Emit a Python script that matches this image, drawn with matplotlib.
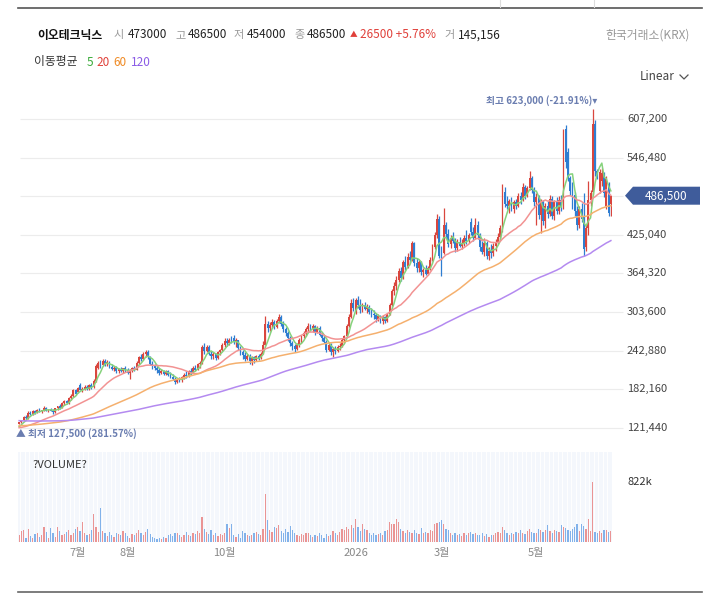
import numpy as np
import matplotlib
matplotlib.use('Agg')
import matplotlib.pyplot as plt
from matplotlib.patches import Polygon
from matplotlib.lines import Line2D

plt.rcParams['font.family'] = ['Noto Sans CJK KR', 'DejaVu Sans']

# ---------------- data (prices in thousand KRW, volume in thousand shares) ----------------
stock_name = '이오테크닉스'
exchange = '한국거래소(KRX)'
month_labels = ['7월', '8월', '10월', '2026', '3월', '5월']
month_idx = [26, 48, 91, 149, 187, 229]
ma_windows = [5, 20, 60, 120]
price_ticks = [121440, 182160, 242880, 303600, 364320, 425040, 485760, 546480, 607200]

# closes before the visible window (needed for moving averages)
prior_closes = [
    155, 153, 156, 152, 150, 151, 148, 150, 149, 147,
    146, 148, 145, 147, 144, 146, 149, 147, 145, 143,
    144, 142, 145, 143, 141, 140, 142, 144, 141, 139,
    140, 138, 141, 139, 137, 139, 141, 138, 136, 138,
    137, 135, 138, 136, 134, 136, 138, 135, 133, 135,
    134, 132, 135, 133, 131, 133, 130, 132, 131, 129,
    130, 128, 131, 129, 127, 129, 126, 128, 130, 127,
    125, 127, 129, 126, 124, 126, 128, 125, 127, 126,
    124, 126, 128, 125, 127, 129, 126, 124, 126, 128,
    125, 123, 125, 127, 124, 126, 123, 125, 124, 122,
    123, 121, 122, 120, 122, 119, 121, 123, 120, 118,
    120, 122, 119, 121, 123, 120, 118, 121, 122, 124,
]

opens = [
    128, 130, 133, 139, 136, 145, 143, 148, 145, 150,
    147, 149, 153, 148, 150, 148, 146, 152, 155, 153,
    160, 163, 160, 168, 172, 180, 178, 188, 181, 183,
    186, 182, 188, 185, 195, 216, 224, 220, 226, 221,
    225, 217, 214, 216, 210, 214, 211, 215, 212, 208,
    212, 215, 213, 224, 233, 229, 237, 240, 232, 222,
    218, 215, 212, 208, 211, 206, 210, 205, 202, 198,
    194, 198, 196, 201, 205, 203, 211, 208, 216, 213,
    221, 223, 248, 242, 249, 238, 234, 237, 231, 240,
    243, 252, 258, 254, 260, 262, 256, 259, 247, 240,
    236, 230, 235, 226, 232, 228, 234, 231, 238, 252,
    285, 278, 283, 288, 280, 290, 296, 285, 276, 270,
    262, 254, 250, 245, 251, 259, 265, 271, 276, 282,
    277, 281, 272, 279, 268, 262, 257, 244, 252, 240,
    245, 242, 248, 250, 260, 266, 282, 296, 318, 305,
    322, 314, 306, 315, 309, 312, 304, 300, 298, 292,
    297, 290, 295, 289, 300, 315, 336, 345, 354, 368,
    357, 382, 374, 390, 385, 412, 380, 372, 382, 366,
    370, 364, 373, 386, 405, 425, 450, 405, 396, 440,
    426, 410, 420, 415, 404, 414, 408, 412, 420, 416,
    445, 430, 420, 440, 424, 406, 398, 412, 392, 400,
    396, 408, 414, 422, 435, 492, 474, 470, 478, 466,
    476, 470, 486, 480, 500, 486, 498, 515, 496, 476,
    484, 456, 476, 446, 470, 458, 482, 455, 476, 462,
    480, 468, 592, 555, 515, 500, 488, 462, 440, 465,
    455, 405, 436, 480, 492, 600, 525, 494, 510, 520,
    470, 505, 473,
]

highs = [
    131, 134, 140, 141, 147, 148, 150, 150, 151, 152,
    150, 155, 154, 151, 153, 151, 153, 156, 158, 162,
    165, 165, 170, 174, 182, 183, 186, 192, 186, 188,
    189, 190, 191, 198, 222, 226, 228, 229, 230, 228,
    227, 222, 219, 218, 216, 217, 216, 218, 215, 214,
    217, 218, 226, 235, 238, 240, 243, 244, 234, 226,
    222, 218, 215, 214, 213, 212, 212, 209, 206, 201,
    200, 202, 203, 207, 210, 213, 215, 218, 220, 223,
    226, 252, 254, 252, 251, 242, 240, 239, 242, 246,
    255, 262, 263, 262, 265, 268, 262, 260, 250, 244,
    240, 237, 237, 234, 235, 236, 238, 240, 258, 297,
    290, 288, 292, 291, 292, 300, 298, 289, 280, 274,
    266, 258, 253, 254, 262, 268, 274, 280, 286, 285,
    284, 283, 282, 281, 272, 268, 260, 256, 255, 248,
    250, 252, 254, 262, 268, 285, 300, 324, 326, 326,
    328, 324, 318, 320, 316, 315, 310, 306, 302, 300,
    299, 298, 297, 302, 318, 340, 350, 360, 372, 375,
    386, 392, 396, 400, 416, 414, 388, 386, 384, 372,
    378, 376, 390, 410, 430, 458, 455, 408, 467, 445,
    434, 425, 430, 420, 418, 422, 418, 425, 432, 428,
    452, 438, 452, 446, 428, 415, 420, 415, 405, 410,
    412, 418, 428, 440, 505, 500, 486, 482, 484, 480,
    482, 490, 492, 506, 504, 502, 525, 518, 500, 490,
    488, 482, 480, 475, 478, 488, 486, 480, 484, 486,
    488, 591, 598, 562, 518, 508, 492, 470, 470, 475,
    491, 440, 510, 495, 623, 605, 528, 528, 530, 524,
    518, 508, 486.5,
]

lows = [
    127.5, 129, 132, 134, 135, 141, 142, 143, 144, 146,
    144, 148, 147, 146, 147, 143, 145, 150, 151, 152,
    157, 158, 159, 165, 170, 173, 176, 180, 178, 180,
    180, 181, 183, 184, 194, 214, 216, 218, 219, 218,
    215, 212, 210, 208, 207, 209, 208, 209, 206, 198,
    209, 210, 212, 222, 226, 228, 232, 230, 220, 214,
    212, 208, 205, 206, 204, 204, 203, 199, 196, 190,
    191, 193, 194, 198, 200, 202, 205, 207, 210, 212,
    216, 222, 238, 240, 236, 230, 229, 228, 230, 236,
    242, 248, 250, 252, 254, 253, 248, 244, 236, 230,
    226, 228, 222, 220, 224, 226, 228, 229, 237, 251,
    272, 274, 278, 276, 279, 286, 282, 272, 266, 258,
    250, 244, 240, 243, 249, 255, 262, 266, 272, 273,
    272, 268, 270, 265, 258, 254, 240, 242, 236, 232,
    238, 240, 243, 248, 255, 264, 280, 294, 305, 300,
    310, 302, 304, 306, 302, 300, 296, 292, 288, 290,
    286, 285, 286, 288, 298, 313, 330, 338, 350, 352,
    355, 370, 372, 380, 384, 376, 366, 366, 362, 358,
    362, 362, 370, 384, 402, 420, 388, 360, 394, 420,
    406, 404, 412, 398, 400, 405, 402, 408, 410, 412,
    425, 415, 418, 418, 400, 395, 392, 387, 385, 388,
    392, 400, 410, 418, 430, 468, 465, 460, 462, 460,
    466, 468, 474, 478, 482, 484, 495, 490, 470, 440,
    450, 428, 440, 436, 452, 455, 450, 448, 458, 458,
    462, 465, 530, 510, 488, 466, 455, 432, 436, 445,
    392, 400, 425, 470, 488, 518, 512, 490, 502, 484,
    466, 455, 454,
]

closes = [
    130, 133, 139, 136, 145, 143, 148, 145, 150, 147,
    149, 153, 148, 150, 148, 146, 152, 155, 153, 160,
    163, 160, 168, 172, 180, 175, 184, 181, 183, 186,
    182, 188, 185, 195, 218, 224, 220, 226, 221, 225,
    217, 214, 216, 210, 214, 211, 215, 212, 208, 212,
    215, 213, 224, 233, 229, 237, 240, 232, 222, 218,
    215, 212, 208, 211, 206, 210, 205, 202, 198, 194,
    198, 196, 201, 205, 203, 211, 208, 216, 213, 221,
    223, 248, 242, 249, 238, 234, 237, 231, 240, 243,
    252, 258, 254, 260, 256, 256, 259, 247, 240, 236,
    230, 235, 226, 232, 228, 234, 231, 238, 252, 285,
    278, 283, 288, 280, 290, 296, 285, 276, 270, 262,
    254, 250, 245, 251, 259, 265, 271, 276, 282, 277,
    281, 272, 279, 268, 262, 257, 244, 252, 240, 245,
    242, 248, 250, 260, 266, 282, 296, 318, 310, 322,
    314, 306, 315, 309, 312, 304, 300, 298, 292, 297,
    290, 295, 289, 300, 315, 336, 345, 354, 368, 357,
    382, 374, 390, 385, 412, 380, 372, 382, 366, 370,
    364, 373, 386, 405, 425, 450, 392, 396, 440, 426,
    410, 420, 415, 404, 414, 408, 412, 420, 416, 424,
    430, 420, 440, 424, 406, 398, 412, 392, 400, 396,
    408, 414, 422, 435, 492, 474, 470, 478, 466, 476,
    470, 486, 480, 500, 486, 498, 515, 496, 476, 484,
    456, 476, 446, 470, 458, 482, 455, 476, 462, 480,
    468, 585, 540, 515, 494, 470, 462, 440, 465, 450,
    402, 436, 480, 490, 600, 525, 518, 524, 522, 490,
    512, 460, 486.5,
]

volumes = [
    90, 150, 165, 60, 175, 80, 50, 110, 130, 70,
    95, 205, 140, 60, 185, 120, 70, 205, 150, 90,
    110, 140, 160, 95, 130, 180, 205, 150, 275, 120,
    90, 110, 160, 390, 200, 140, 460, 155, 120, 80,
    140, 100, 70, 130, 110, 90, 150, 120, 80, 60,
    110, 90, 130, 160, 120, 100, 140, 180, 110, 70,
    60, 40, 55, 45, 70, 60, 90, 110, 80, 130,
    120, 90, 70, 100, 140, 90, 80, 130, 110, 150,
    120, 345, 180, 140, 110, 160, 90, 120, 80, 110,
    100, 130, 240, 185, 250, 90, 70, 110, 60, 150,
    130, 100, 80, 90, 120, 140, 110, 90, 180, 660,
    300, 160, 140, 200, 185, 230, 150, 120, 180, 140,
    220, 160, 130, 100, 80, 110, 90, 130, 120, 90,
    70, 100, 80, 120, 90, 60, 110, 80, 100, 150,
    120, 90, 140, 180, 160, 200, 180, 230, 190, 310,
    200, 150, 250, 180, 160, 120, 100, 125, 90, 110,
    130, 100, 150, 160, 275, 250, 240, 320, 275, 180,
    150, 130, 160, 140, 120, 160, 130, 110, 185, 120,
    140, 130, 160, 150, 250, 260, 275, 305, 240, 180,
    160, 130, 100, 120, 90, 110, 80, 130, 100, 120,
    140, 110, 130, 100, 90, 120, 80, 110, 70, 100,
    90, 120, 140, 130, 200, 160, 120, 100, 130, 110,
    140, 120, 160, 130, 110, 150, 180, 140, 120, 130,
    180, 160, 140, 170, 230, 150, 120, 170, 150, 140,
    230, 205, 190, 170, 150, 180, 200, 250, 150, 240,
    220, 180, 320, 150, 822, 140, 120, 150, 130, 170,
    160, 140, 145.156,
]

# ---------------- derived arrays ----------------
N = len(closes)
idx = np.arange(N)
o = np.array(opens, float) * 1000
h = np.array(highs, float) * 1000
l = np.array(lows, float) * 1000
c = np.array(closes, float) * 1000
vol = np.array(volumes, float) * 1000
full = np.array(prior_closes + closes, float) * 1000


def sma(w):
    k = np.convolve(full, np.ones(w) / w, mode='valid')
    return k[-N:]


# ---------------- styling ----------------
UP = '#d9463e'
DOWN = '#2e7dd1'
UP_V = '#ea9494'
DOWN_V = '#82b2ea'
MA_COLORS = ['#86d27c', '#f29393', '#f5b06e', '#b48af0']
MA_TXT = ['#3aab3a', '#e0413a', '#ef8a24', '#8b5ce6']

W, H = 717, 597
fig = plt.figure(figsize=(W / 100, H / 100), dpi=100)
fig.patch.set_facecolor('white')


def fx(px):
    return px / W


def fy(py):
    return 1 - py / H


LEFT, RIGHT = 18, 612
P_TOP, P_BOT = 95, 445
V_TOP, V_BOT = 452, 542
axp = fig.add_axes([fx(LEFT), fy(P_BOT), (RIGHT - LEFT) / W, (P_BOT - P_TOP) / H])
axv = fig.add_axes([fx(LEFT), fy(V_BOT), (RIGHT - LEFT) / W, (V_BOT - V_TOP) / H])

px_per = (RIGHT - LEFT) / N
for ax in (axp, axv):
    ax.set_xlim(-0.5, N - 0.5)
    for s in ax.spines.values():
        s.set_visible(False)
    ax.set_xticks([])
    ax.set_yticks([])


def xdata(px):
    return -0.5 + (px - LEFT) / px_per


# price scale: 121,440 at y=427.7 px, 607,200 at y=119 px
y_lo_px, y_hi_px = 427.7, 119.0
per_px = (price_ticks[-1] - price_ticks[0]) / (y_lo_px - y_hi_px)
ymin = price_ticks[0] - (P_BOT - y_lo_px) * per_px
ymax = price_ticks[-1] + (y_hi_px - P_TOP) * per_px
axp.set_ylim(ymin, ymax)


def ypix(v):
    return P_BOT - (v - ymin) / (ymax - ymin) * (P_BOT - P_TOP)


last = c[-1]
yc = ypix(last)

axp.hlines(price_ticks, xdata(20), xdata(623), color='#ececec', lw=0.8,
           clip_on=False, zorder=0)
for t in price_ticks:
    if abs(ypix(t) - yc) < 12:
        continue  # hidden behind the current-price tag
    axp.text(xdata(627), t, f'{t:,}', ha='left', va='center', fontsize=8,
             color='#444444', clip_on=False)

# candles
up = c >= o
cols = np.where(up, UP, DOWN)
axp.vlines(idx, l, h, colors=cols, lw=0.9, zorder=3)
body_lo = np.minimum(o, c)
body_h = np.maximum(np.abs(c - o), 600)
axp.bar(idx, body_h, bottom=body_lo, width=0.82, color=cols, lw=0, zorder=3)

# moving averages
for w, col in zip(ma_windows, MA_COLORS):
    axp.plot(idx, sma(w), color=col, lw=1.1, zorder=4)

# high / low annotations
imax = int(np.argmax(h))
imin = int(np.argmin(l))
axp.annotate(f'최고 {h[imax]:,.0f} ({(last / h[imax] - 1) * 100:.2f}%)▾',
             xy=(imax, h[imax]), xytext=(3, 2), textcoords='offset points',
             ha='right', va='bottom', fontsize=7, color='#6a7db0',
             fontweight='bold', annotation_clip=False)
axp.annotate(f'▲ 최저 {l[imin]:,.0f} ({(last / l[imin] - 1) * 100:.2f}%)',
             xy=(imin, l[imin]), xytext=(-2, -3), textcoords='offset points',
             ha='left', va='top', fontsize=7, color='#6a7db0',
             fontweight='bold', annotation_clip=False)

# ---------------- volume panel ----------------
vmax = vol.max()
axv.set_ylim(0, vmax * (V_BOT - V_TOP) / 60.0)
axv.set_facecolor('#f4f7fc')
for i in range(0, N, 2):
    axv.axvline(i + 0.5, color='white', lw=0.7, zorder=0)
vcols = np.where(up, UP_V, DOWN_V)
axv.bar(idx, vol, width=0.55, color=vcols, lw=0, zorder=2)
axv.text(0.025, 0.86, '?VOLUME?', transform=axv.transAxes, fontsize=8,
         color='#333333', va='center', ha='left')
axv.text(xdata(627), vmax, f'{vmax / 1000:.0f}k', ha='left', va='center',
         fontsize=8, color='#333333', clip_on=False)
xt = axv.get_xaxis_transform()
for i, lab in zip(month_idx, month_labels):
    axv.text(i, -(553 - V_BOT) / (V_BOT - V_TOP), lab, transform=xt,
             ha='center', va='center', fontsize=8, color='#888888')

# ---------------- price tag ----------------
tag = Polygon([(fx(625), fy(yc)), (fx(633), fy(yc - 9)), (fx(700), fy(yc - 9)),
               (fx(700), fy(yc + 9)), (fx(633), fy(yc + 9))],
              closed=True, transform=fig.transFigure, facecolor='#3f5c9b',
              edgecolor='none', zorder=5)
fig.patches.append(tag)
fig.text(fx(666), fy(yc), f'{last:,.0f}', ha='center', va='center',
         fontsize=8.5, color='white', zorder=6)

# ---------------- header ----------------
fig.add_artist(Line2D([fx(18), fx(702)], [fy(7.5), fy(7.5)], color='#555555', lw=1.2))
fig.add_artist(Line2D([fx(18), fx(702)], [fy(592), fy(592)], color='#666666', lw=1.2))
for xx in (500, 594):
    fig.add_artist(Line2D([fx(xx), fx(xx)], [fy(0), fy(7)], color='#dddddd', lw=0.8))

HY = fy(35)
fig.text(fx(37), HY, stock_name, fontsize=8.5, fontweight='bold', color='#111111',
         va='center', ha='left')
labels_hdr = [(114, '시'), (175, '고'), (234, '저'), (294, '종'), (444, '거')]
for px, s in labels_hdr:
    fig.text(fx(px), HY, s, fontsize=8, color='#999999', va='center', ha='left')
values_hdr = [(128, f'{o[-1]:.0f}'), (188, f'{h[-1]:.0f}'), (247, f'{l[-1]:.0f}'),
              (307, f'{c[-1]:.0f}'), (458, f'{vol[-1]:,.0f}')]
for px, s in values_hdr:
    fig.text(fx(px), HY, s, fontsize=8.5, color='#222222', va='center', ha='left')
prev = c[-2]
fig.text(fx(350), HY, '▲', fontsize=5.5, color='#e0403a', va='center', ha='left')
fig.text(fx(360), HY, f'{last - prev:.0f} +{(last / prev - 1) * 100:.2f}%',
         fontsize=8.5, color='#e0403a', va='center', ha='left')
fig.text(fx(690), HY, exchange, fontsize=8.5, color='#999999', va='center', ha='right')

LY = fy(62)
fig.text(fx(34), LY, '이동평균', fontsize=8.5, color='#333333', va='center', ha='left')
for px, w, col in zip([87, 96, 113, 131], ma_windows, MA_TXT):
    fig.text(fx(px), LY, str(w), fontsize=8.5, color=col, va='center', ha='left')

fig.text(fx(640), fy(77), 'Linear', fontsize=8.5, color='#444444', va='center', ha='left')
fig.add_artist(Line2D([fx(680), fx(684), fx(688)], [fy(75), fy(79), fy(75)],
                      color='#555555', lw=0.9))

fig.savefig('out.png', dpi=100, facecolor='white')
